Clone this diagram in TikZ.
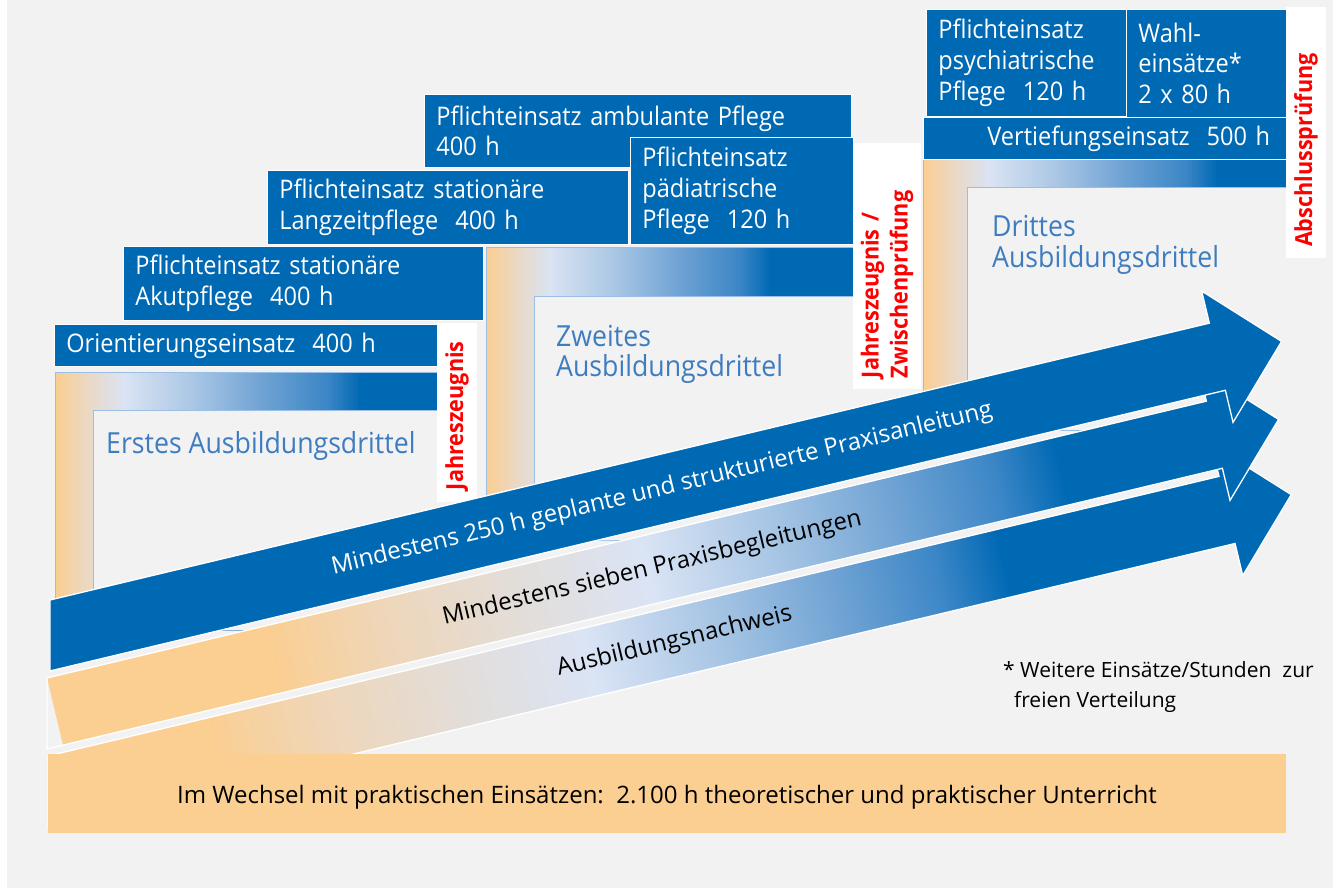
\documentclass[tikz,border=0pt]{standalone}
\usepackage{fontspec}
\setmainfont{Open Sans}[FakeStretch=0.92]
\newfontfamily\plainsans{Open Sans}

\definecolor{bg}{HTML}{F2F2F2}
\definecolor{pblue}{HTML}{0069B4}
\definecolor{peach}{HTML}{FBCE91}
\definecolor{thirdtext}{HTML}{3E7CC0}
\definecolor{frameline}{HTML}{9BBEE4}
\definecolor{examred}{HTML}{FF0000}
% stops of the arrow gradient
\definecolor{gA}{HTML}{EFD6B8}
\definecolor{gB}{HTML}{E3DDD8}
\definecolor{gC}{HTML}{DAE4F5}
\definecolor{gD}{HTML}{A3C3E3}
\definecolor{gE}{HTML}{6EA2D3}
\definecolor{gF}{HTML}{3D87C7}
% stops of the frame gradient
\definecolor{fB}{HTML}{E9D9C8}
\definecolor{fC}{HTML}{DAE3F3}
\definecolor{fD}{HTML}{AAC7E5}
\definecolor{fE}{HTML}{70A3D4}
\definecolor{fF}{HTML}{3B86C6}

\pgfdeclarehorizontalshading{arrowgrad}{100bp}{color(0bp)=(peach); color(25bp)=(peach); color(33.5bp)=(peach); color(37.9bp)=(gA); color(43.2bp)=(gB); color(48.4bp)=(gC); color(53.8bp)=(gD); color(58.4bp)=(gE); color(62.2bp)=(gF); color(64.8bp)=(pblue); color(100bp)=(pblue)}
\pgfdeclarehorizontalshading{framegrad}{100bp}{color(0bp)=(peach); color(25bp)=(peach); color(30.8bp)=(fB); color(36.3bp)=(fC); color(47.5bp)=(fD); color(58.7bp)=(fE); color(69.7bp)=(fF); color(75bp)=(pblue); color(100bp)=(pblue)}

\newcommand\einsatzfont{\fontsize{25.6}{30.7}\selectfont}
\newcommand\drittelfont{\fontsize{29}{30.5}\selectfont}
\newcommand\pfeilfont{\plainsans\fontsize{24}{28}\selectfont}
\newcommand\pruefungfont{\fontsize{23.5}{29}\selectfont\bfseries}
\newcommand\notizfont{\plainsans\fontsize{21}{30.5}\selectfont}
\newcommand\leistenfont{\plainsans\fontsize{24}{28}\selectfont}

\tikzset{
  einsatz/.style={draw=white, line width=0.8pt, fill=pblue, text=white, font=\einsatzfont,
    align=left, anchor=north west, inner xsep=12pt, inner ysep=0pt},
  pruefung/.style={fill=white, text=examred, font=\pruefungfont, rotate=90, inner sep=0pt, align=left},
  drittel/.style={text=thirdtext, font=\drittelfont, align=left, anchor=north west, inner sep=0pt},
  frame/.style={draw=frameline, line width=1pt},
  arrowedge/.style={draw=white, line width=1.3pt, line join=miter},
}

\begin{document}
\begin{tikzpicture}[x=1pt,y=-1pt]
\useasboundingbox (0,0) rectangle (1333,893);
\fill[white] (0,0) rectangle (1333,893);
\fill[bg] (7,0) rectangle (1333,888);

% ---- first third: bent frame ----
\shade[shading=framegrad] (55,372) rectangle (360,630);
\fill[pblue] (359,372) rectangle (470,410);
\fill[bg] (93,410) rectangle (470,630);
\draw[frame] (55,630) |- (470,372);
\draw[frame] (93,630) |- (470,410);
\node[drittel] (erstes) at (106,431.5) {Erstes Ausbildungsdrittel};

% ---- second third ----
\shade[shading=framegrad] (486,248) rectangle (770,540);
\fill[pblue] (769,248) rectangle (900,297);
\fill[bg] (534,297) rectangle (900,540);
\draw[frame] (486,540) |- (900,248);
\draw[frame] (534,540) |- (900,297);
\node[drittel] (zweites) at (556,325) {Zweites\\Ausbildungsdrittel};

% ---- third third ----
\shade[shading=framegrad] (923,160) rectangle (1217,430);
\fill[pblue] (1216,160) rectangle (1300,188);
\fill[bg] (967,188) rectangle (1300,430);
\draw[frame] (923,430) |- (1300,160);
\draw[frame] (967,430) |- (1300,188);
\node[drittel] (drittes) at (992,215.5) {Drittes\\Ausbildungsdrittel};

% ---- placements ----
\node[einsatz, text width=359pt, minimum height=42pt] (orient) at (54,324) {Orientierungseinsatz\ \ 400 h};
\node[einsatz, text width=336pt, minimum height=74pt] (akut) at (123,246) {Pflichteinsatz stationäre\\Akutpflege\ \ 400 h};
\node[einsatz, text width=337pt, minimum height=74pt] (langzeit) at (267,170) {Pflichteinsatz stationäre\\Langzeitpflege\ \ 400 h};
\node[einsatz, text width=403pt, minimum height=73pt] (ambulant) at (424,94) {Pflichteinsatz ambulante Pflege\\400 h};
\node[einsatz, text width=199pt, minimum height=107pt] (paed) at (630,137) {Pflichteinsatz\\pädiatrische\\Pflege\ \ 120 h};
\node[einsatz, text width=176pt, minimum height=107pt] (psych) at (926,9) {Pflichteinsatz\\psychiatrische\\Pflege\ \ 120 h};
\node[einsatz, text width=136pt, minimum height=108pt] (wahl) at (1126,9) {Wahl-\\einsätze*\\2 x 80 h};
\node[einsatz, text width=353pt, inner xsep=5pt, minimum height=42pt] (vertiefung) at (923,117) {\hspace*{59pt}Vertiefungseinsatz\ \ 500 h};

% ---- certificates and exams ----
\node[pruefung, minimum width=179pt, minimum height=40pt, text width=155pt, inner xsep=12pt] (jahr1) at (457,412.5) {Jahreszeugnis};
\node[pruefung, minimum width=246pt, minimum height=68pt, text width=224pt, inner xsep=11pt] (jahr2) at (887,266) {Jahreszeugnis /\\Zwischenprüfung};
\node[pruefung, minimum width=251pt, minimum height=40pt, text width=229pt, inner xsep=11pt] (abschluss) at (1306,132.5) {Abschlussprüfung};

% ---- slanted arrows (back to front) ----
\begin{scope}[transform canvas={shift={(48,756)},rotate=13.43}]
  \begin{scope}
    \clip (0,0) -- (1204,0) -- (1204,-33) -- (1270,34.5) -- (1204,102) -- (1204,69) -- (-16.5,69) -- cycle;
    \shade[shading=arrowgrad] (-60,-40) rectangle (1240,110);
    \fill[pblue] (1230,-40) rectangle (1300,110);
  \end{scope}
  \draw[arrowedge] (0,0) -- (1204,0) -- (1204,-33) -- (1270,34.5) -- (1204,102) -- (1204,69) -- (-16.5,69) -- cycle;
  \node[font=\pfeilfont] (nachweis) at (636,34.5) {Ausbildungsnachweis};
\end{scope}

\begin{scope}[transform canvas={shift={(47,678)},rotate=13.43}]
  \begin{scope}
    \clip (0,0) -- (1192,0) -- (1192,-33) -- (1258,34.5) -- (1192,102) -- (1192,69) -- (-16.5,69) -- cycle;
    \shade[shading=arrowgrad] (0,-40) rectangle (1300,110);
  \end{scope}
  \draw[arrowedge] (0,0) -- (1192,0) -- (1192,-33) -- (1258,34.5) -- (1192,102) -- (1192,69) -- (-16.5,69) -- cycle;
  \node[font=\pfeilfont] (begleitung) at (614,34.5) {Mindestens sieben Praxisbegleitungen};
\end{scope}

\begin{scope}[transform canvas={shift={(50,600)},rotate=13.43}]
  \filldraw[arrowedge, fill=pblue] (0,0) -- (1192,0) -- (1192,-33) -- (1258,34.5) -- (1192,102) -- (1192,69) -- (-16.5,69) -- cycle;
  \node[font=\pfeilfont, text=white] (anleitung) at (621,34.5) {Mindestens 250 h geplante und strukturierte Praxisanleitung};
\end{scope}

% ---- theory bar ----
\fill[peach] (48,754) rectangle (1286,833);
\node[font=\leistenfont, anchor=base, inner sep=0pt] (unterricht) at (667,803) {Im Wechsel mit praktischen Einsätzen:\ \ 2.100 h theoretischer und praktischer Unterricht};

% ---- footnote ----
\node[font=\notizfont, anchor=north west, align=left, inner sep=0pt] (fussnote) at (1003,661) {* Weitere Einsätze/Stunden\ \ zur\\\hspace*{11pt}freien Verteilung};
\end{tikzpicture}
\end{document}
